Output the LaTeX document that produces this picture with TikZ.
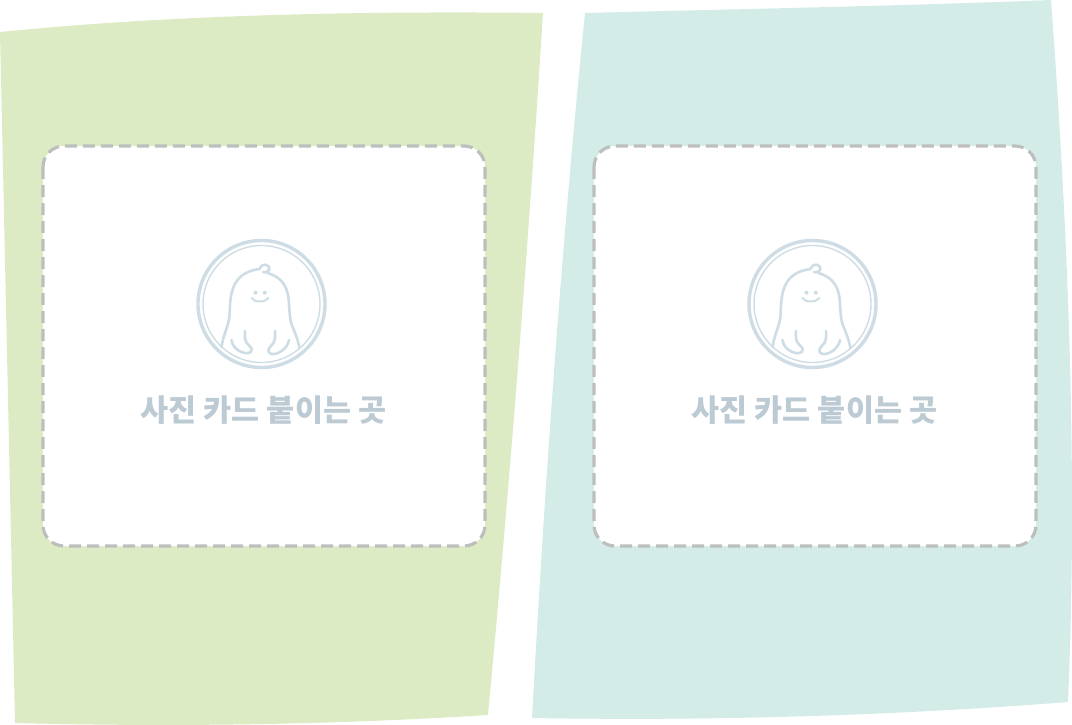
\documentclass[tikz,border=0pt]{standalone}
\usepackage{fontspec}
\newfontfamily\krfont[Script=Hangul]{Noto Sans CJK KR Black}
\definecolor{greenbg}{HTML}{DCEBC3}
\definecolor{bluebg}{HTML}{D4ECE8}
\definecolor{dashgrey}{HTML}{BDBFBF}
\definecolor{mascot}{HTML}{CEDDE5}
\definecolor{labelc}{HTML}{BCCAD3}
\tikzset{
  cardbox/.style={fill=white,draw=dashgrey,line width=3.2pt,dash pattern=on 12pt off 6pt,rounded corners=21pt},
  mline/.style={draw=mascot,line width=2.6pt,line cap=round,line join=round},
  cardlabel/.style={text=labelc,font=\krfont\fontsize{30.5}{31}\selectfont,inner sep=0pt},
  pics/sticker/.style={code={
    \draw[draw=mascot,line width=3.4pt] (0,0) circle[radius=63.5];
    \draw[draw=mascot,line width=1.4pt] (0,0) circle[radius=58.5];
    \draw[mline] (-40,43) .. controls (-38,30) and (-33,22) .. (-32,12)
      .. controls (-31,-5) and (-33,-31) .. (-2,-35)
      .. controls (-1,-38) and (2,-40) .. (5,-39)
      .. controls (8,-38) and (9,-34) .. (6,-32.5)
      .. controls (4,-31.5) and (3,-31.5) .. (1.5,-32);
    \draw[mline] (6,-31) .. controls (16,-28) and (25,-22) .. (27,-6)
      .. controls (28,5) and (28,14) .. (30,20)
      .. controls (33,28) and (36,34) .. (38,44);
    \draw[mline] (-30,36) .. controls (-29,45) and (-19,50) .. (-13,49)
      .. controls (-9,48) and (-9,44) .. (-12,42)
      .. controls (-17,38) and (-17,33) .. (-16.5,27);
    \draw[mline] (27.5,36) .. controls (26,45) and (16,51) .. (10,50)
      .. controls (6,49) and (6,45) .. (9,42.5)
      .. controls (14,38) and (14,33) .. (13.5,27);
    \fill[mascot] (-6,-11.3) circle[radius=2] (3.3,-11.3) circle[radius=2];
    \draw[mline,line width=2pt] (-10,-6) .. controls (-8,-3.5) and (-6,-2.5) .. (-2,-2.5)
      .. controls (2,-2.5) and (5,-3.5) .. (7,-6);
  }}
}
\begin{document}
\begin{tikzpicture}[x=1pt,y=-1pt]
\useasboundingbox (0,0) rectangle (1072,725);
\fill[greenbg] (0,32) .. controls (180,14) and (370,11) .. (543,13)
  .. controls (528,250) and (510,480) .. (488,715)
  .. controls (330,725) and (170,727) .. (15,723)
  .. controls (10,490) and (5,260) .. (0,32) -- cycle;
\fill[bluebg] (585,13) .. controls (740,9) and (900,6) .. (1051,0)
  .. controls (1068,230) and (1078,470) .. (1068,702)
  .. controls (890,716) and (710,721) .. (532,718)
  .. controls (545,480) and (562,240) .. (585,13) -- cycle;
\draw[cardbox] (43,146) rectangle (485,546);
\draw[cardbox] (594,146) rectangle (1036,546);
\pic at (261.5,304) {sticker};
\pic at (812.5,304) {sticker};
\node[cardlabel] (labelA) at (263.5,410) {사진 카드 붙이는 곳};
\node[cardlabel] (labelB) at (814.5,410) {사진 카드 붙이는 곳};
\end{tikzpicture}
\end{document}
